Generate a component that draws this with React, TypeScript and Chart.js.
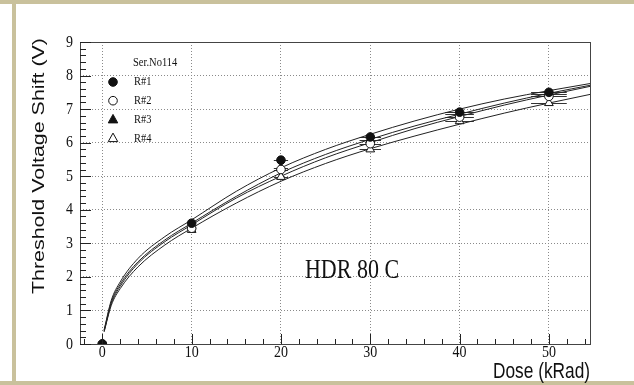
import React, { useEffect, useRef } from "react";
import { Chart, registerables } from "chart.js";

Chart.register(...registerables);

// ---- data ----
const DOSE = [0, 10, 20, 30, 40, 50];
const DOSE_ERR = [0, 0.4, 0.8, 1.2, 1.6, 2.0];
const R1 = [0, 3.6, 5.48, 6.17, 6.91, 7.5];
const R2 = [0, 3.45, 5.2, 5.97, 6.76, 7.38];
const R3 = [0, 3.5, 5.25, 6.08, 6.85, 7.45];
const R4 = [0, 3.4, 4.98, 5.8, 6.64, 7.18];

// fitted curves
const FIT_X = [0.2, 1, 2, 4, 7, 10, 15, 20, 25, 30, 35, 40, 45, 50, 55];
const FIT1 = [0.42, 1.3, 1.85, 2.55, 3.2, 3.7, 4.55, 5.25, 5.8, 6.25, 6.65, 7.0, 7.3, 7.55, 7.78];
const FIT2 = [0.4, 1.25, 1.78, 2.45, 3.1, 3.6, 4.4, 5.1, 5.65, 6.1, 6.5, 6.85, 7.18, 7.47, 7.73];
const FIT3 = [0.38, 1.2, 1.72, 2.4, 3.05, 3.55, 4.35, 5.0, 5.55, 6.0, 6.42, 6.78, 7.12, 7.42, 7.7];
const FIT4 = [0.36, 1.15, 1.65, 2.3, 2.95, 3.45, 4.2, 4.85, 5.38, 5.82, 6.2, 6.55, 6.88, 7.18, 7.46];

const X_TICKS = [0, 10, 20, 30, 40, 50];
const Y_TICKS = [0, 1, 2, 3, 4, 5, 6, 7, 8, 9];
const LEGEND_TITLE = "Ser.No114";
const SERIES_NAMES = ["R#1", "R#2", "R#3", "R#4"];
const X_TITLE = "Dose (kRad)";
const Y_TITLE = "Threshold Voltage Shift (V)";
const NOTE = "HDR 80 C";

const SERIF = '"Liberation Serif", "Times New Roman", serif';
const SANS = '"Liberation Sans", Arial, sans-serif';
const TAN = "#c9c19c";
const INK = "#111";
const STRETCH = 1.24; // the picture is taller than wide: text is stretched vertically

const SERIES = [
  { name: SERIES_NAMES[0], y: R1, style: "circle", filled: true },
  { name: SERIES_NAMES[1], y: R2, style: "circle", filled: false },
  { name: SERIES_NAMES[2], y: R3, style: "triangle", filled: true },
  { name: SERIES_NAMES[3], y: R4, style: "triangle", filled: false },
];
const FITS = [FIT1, FIT2, FIT3, FIT4];

function text(
  ctx: CanvasRenderingContext2D,
  s: string,
  x: number,
  y: number,
  font: string,
  align: CanvasTextAlign,
  baseline: CanvasTextBaseline,
) {
  ctx.save();
  ctx.translate(x, y);
  ctx.scale(1, STRETCH);
  ctx.font = font;
  ctx.textAlign = align;
  ctx.textBaseline = baseline;
  ctx.fillStyle = INK;
  ctx.fillText(s, 0, 0);
  ctx.restore();
}

function drawMarker(ctx: CanvasRenderingContext2D, style: string, filled: boolean, x: number, y: number) {
  ctx.save();
  ctx.beginPath();
  if (style === "circle") {
    ctx.arc(x, y, 4.3, 0, Math.PI * 2);
  } else {
    const r = 5;
    ctx.moveTo(x, y - r);
    ctx.lineTo(x + r * 0.95, y + r * 0.7);
    ctx.lineTo(x - r * 0.95, y + r * 0.7);
    ctx.closePath();
  }
  ctx.fillStyle = filled ? INK : "#fff";
  ctx.fill();
  ctx.lineWidth = 1;
  ctx.strokeStyle = INK;
  ctx.stroke();
  ctx.restore();
}

const decorPlugin = {
  id: "decor",
  beforeDraw(chart: any) {
    const { ctx, width, height } = chart;
    ctx.save();
    ctx.fillStyle = "#fff";
    ctx.fillRect(0, 0, width, height);
    ctx.fillStyle = TAN;
    ctx.fillRect(0, 0, width, 4);
    ctx.fillRect(12, 0, 4, height);
    ctx.fillRect(0, height - 4, width, 4);
    ctx.restore();
  },
  beforeDatasetsDraw(chart: any) {
    const { ctx } = chart;
    const xs = chart.scales.x;
    const ys = chart.scales.y;
    ctx.save();
    ctx.strokeStyle = "#333";
    ctx.lineWidth = 1;
    SERIES.forEach((s) => {
      DOSE.forEach((d, i) => {
        const e = DOSE_ERR[i];
        if (!e) return;
        const py = Math.round(ys.getPixelForValue(s.y[i])) + 0.5;
        ctx.beginPath();
        ctx.moveTo(xs.getPixelForValue(d - e), py);
        ctx.lineTo(xs.getPixelForValue(d + e), py);
        ctx.stroke();
      });
    });
    ctx.restore();
  },
  afterDraw(chart: any) {
    const { ctx, chartArea } = chart;
    const xs = chart.scales.x;
    const ys = chart.scales.y;
    const { left, right, top, bottom } = chartArea;
    ctx.save();
    // frame
    ctx.strokeStyle = "#444";
    ctx.lineWidth = 1;
    ctx.strokeRect(Math.round(left) + 0.5, Math.round(top) + 0.5, Math.round(right - left), Math.round(bottom - top));
    // y ticks
    ctx.strokeStyle = "#222";
    for (let k = 0; k <= 45; k++) {
      const v = k * 0.2;
      const py = Math.round(ys.getPixelForValue(v)) + 0.5;
      const len = k % 5 === 0 ? 11 : 6;
      ctx.beginPath();
      ctx.moveTo(left, py);
      ctx.lineTo(left + len, py);
      ctx.stroke();
    }
    // x ticks
    for (let v = -2; v <= 54; v += 2) {
      const px = Math.round(xs.getPixelForValue(v)) + 0.5;
      const len = v % 10 === 0 ? 10 : 5;
      ctx.beginPath();
      ctx.moveTo(px, bottom);
      ctx.lineTo(px, bottom - len);
      ctx.stroke();
    }
    // tick labels
    const tickFont = `14px ${SERIF}`;
    Y_TICKS.forEach((v) => {
      text(ctx, String(v), 73, ys.getPixelForValue(v), tickFont, "right", "middle");
    });
    X_TICKS.forEach((v) => {
      text(ctx, String(v), xs.getPixelForValue(v), 352, tickFont, "center", "middle");
    });
    // axis titles
    const titleFont = `17.3px ${SANS}`;
    text(ctx, X_TITLE, right, 378, titleFont, "right", "alphabetic");
    ctx.save();
    ctx.translate(44, 38);
    ctx.rotate(-Math.PI / 2);
    ctx.scale(STRETCH, 1);
    ctx.font = titleFont;
    ctx.textAlign = "right";
    ctx.textBaseline = "alphabetic";
    ctx.fillStyle = INK;
    ctx.fillText(Y_TITLE, 0, 0);
    ctx.restore();
    // legend
    const legFont = `10.5px ${SERIF}`;
    text(ctx, LEGEND_TITLE, 133, 63, legFont, "left", "middle");
    SERIES.forEach((s, i) => {
      const ly = 82 + i * 18.7;
      drawMarker(ctx, s.style, s.filled, 113, ly);
      text(ctx, s.name, 134, ly, legFont, "left", "middle");
    });
    // note
    text(ctx, NOTE, 352, 271, `22px ${SERIF}`, "center", "middle");
    ctx.restore();
  },
};

export default function App() {
  const ref = useRef<HTMLCanvasElement>(null);
  useEffect(() => {
    if (!ref.current) return;
    const pointSets = SERIES.map((s) => ({
      type: "line" as const,
      label: s.name,
      data: DOSE.map((d, i) => ({ x: d, y: s.y[i] })),
      showLine: false,
      pointStyle: s.style,
      pointRadius: s.style === "circle" ? 4.3 : 5,
      pointBackgroundColor: s.filled ? INK : "#fff",
      pointBorderColor: INK,
      pointBorderWidth: 1,
    }));
    const fitSets = FITS.map((f, k) => ({
      type: "line" as const,
      label: "fit" + (k + 1),
      data: FIT_X.map((x, i) => ({ x, y: f[i] })),
      pointRadius: 0,
      borderColor: "#222",
      borderWidth: 1,
      cubicInterpolationMode: "monotone" as const,
      fill: false,
    }));
    const chart = new Chart(ref.current, {
      type: "line",
      data: { datasets: [...pointSets, ...fitSets] as any },
      options: {
        animation: false,
        responsive: false,
        devicePixelRatio: 1,
        clip: { left: 0, right: 0, top: 0, bottom: 0 } as any,
        layout: { padding: { left: 0, top: 42, right: 44, bottom: 0 } },
        plugins: { legend: { display: false }, tooltip: { enabled: false } },
        scales: {
          x: {
            type: "linear",
            min: -2.5,
            max: 54.6,
            afterFit: (s: any) => { s.height = 41; },
            afterBuildTicks: (s: any) => { s.ticks = X_TICKS.map((v) => ({ value: v })); },
            grid: { color: "#8a8a8a", drawTicks: false },
            border: { display: false, dash: [1, 2] },
            ticks: { display: false, autoSkip: false },
          },
          y: {
            type: "linear",
            min: 0,
            max: 9,
            afterFit: (s: any) => { s.width = 80; },
            afterBuildTicks: (s: any) => { s.ticks = Y_TICKS.map((v) => ({ value: v })); },
            grid: { color: "#8a8a8a", drawTicks: false },
            border: { display: false, dash: [1, 2] },
            ticks: { display: false, autoSkip: false },
          },
        },
      },
      plugins: [decorPlugin],
    });
    return () => chart.destroy();
  }, []);
  return (
    <div style={{ position: "fixed", left: 0, top: 0, width: 634, height: 385, background: "#fff" }}>
      <canvas ref={ref} width={634} height={385} style={{ display: "block" }} />
    </div>
  );
}
